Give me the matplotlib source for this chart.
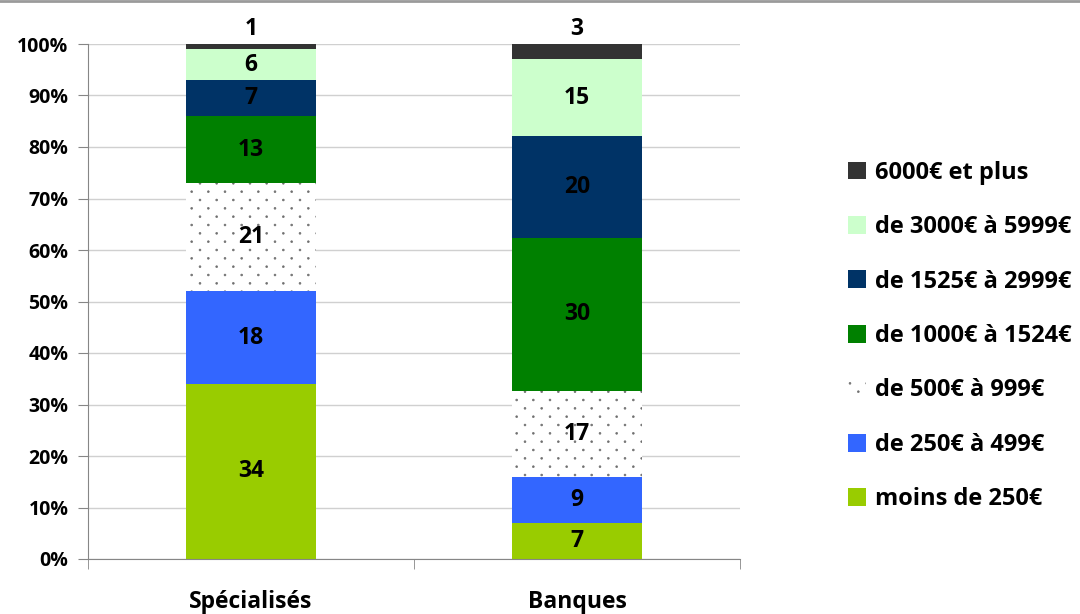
import matplotlib
matplotlib.use("Agg")
import matplotlib.pyplot as plt
import matplotlib.hatch as mhatch
from matplotlib.path import Path
from matplotlib.patches import Patch
from matplotlib.lines import Line2D
import numpy as np

plt.rcParams['font.family'] = ['Open Sans', 'DejaVu Sans']
plt.rcParams['hatch.linewidth'] = 0.5


class ExcelDots(mhatch.Shapes):
    """Sparse staggered dot pattern (Excel 'dotted' fill)."""
    filled = True

    def __init__(self, hatch, density):
        n = hatch.count('.')
        circ = Path.unit_circle()
        self.shape_vertices = circ.vertices
        self.shape_codes = circ.codes
        self.pts = []
        if n:
            rows, cols = 12, 6
            for r in range(rows + 1):
                y = r / rows
                if r % 2 == 0:
                    xs = np.linspace(0, 1, cols + 1)
                else:
                    xs = (np.arange(cols) + 0.5) / cols
                for xx in xs:
                    self.pts.append((xx, y))
        self.num_shapes = len(self.pts)
        self.num_vertices = self.num_shapes * len(self.shape_vertices)

    def set_vertices_and_codes(self, vertices, codes):
        nv = len(self.shape_vertices)
        r = 0.009
        for k, (px, py) in enumerate(self.pts):
            vertices[k * nv:(k + 1) * nv] = self.shape_vertices * r + (px, py)
            codes[k * nv:(k + 1) * nv] = self.shape_codes


mhatch._hatch_types = [ExcelDots if t is mhatch.SmallFilledCircles else t
                       for t in mhatch._hatch_types]

categories = ["Spécialisés", "Banques"]
series_names = ["moins de 250€", "de 250€ à 499€", "de 500€ à 999€",
                "de 1000€ à 1524€", "de 1525€ à 2999€", "de 3000€ à 5999€",
                "6000€ et plus"]
specialises = [34, 18, 21, 13, 7, 6, 1]
banques = [7, 9, 17, 30, 20, 15, 3]
colors = ["#99CC00", "#3366FF", "white", "#008000", "#003366", "#CCFFCC", "#333333"]
hatches = [None, None, ".", None, None, None, None]
yticklabels = ["0%", "10%", "20%", "30%", "40%", "50%", "60%", "70%", "80%", "90%", "100%"]

fig = plt.figure(figsize=(10.8, 6.14), dpi=100)
ax = fig.add_axes([88/1080, 1-559/614, (740-88)/1080, (559-44)/614])

data = np.array([specialises, banques], dtype=float)
pct = data / data.sum(axis=1, keepdims=True) * 100
x = np.arange(len(categories))
bottom = np.zeros(len(categories))
width = 0.4
for i, name in enumerate(series_names):
    vals = pct[:, i]
    ec = '#6f6f6f' if hatches[i] else colors[i]
    ax.bar(x, vals, width, bottom=bottom, color=colors[i], hatch=hatches[i],
           edgecolor=ec, linewidth=0, zorder=2)
    for j in range(len(categories)):
        raw = int(data[j, i])
        if i == len(series_names) - 1:
            ypos = 100 + 2.9
        else:
            ypos = bottom[j] + vals[j] / 2
        ax.text(x[j], ypos, str(raw), ha='center', va='center',
                fontsize=16.5, fontweight='bold', color='black', zorder=3)
    bottom += vals

ax.set_xlim(-0.5, 1.5)
ax.set_ylim(0, 100)
ax.set_yticks(np.arange(0, 101, 10))
ax.set_yticklabels(yticklabels, fontsize=14, fontweight='bold')
ax.set_xticks(x)
ax.set_xticklabels(categories, fontsize=16.5, fontweight='bold')
ax.tick_params(axis='x', length=0, pad=22)
ax.set_xticks([-0.5, 0.5, 1.5], minor=True)
ax.tick_params(axis='x', which='minor', length=7, color='#868686', direction='out')
ax.tick_params(axis='y', length=7, color='#868686', direction='out', pad=7)
ax.yaxis.grid(True, color='#d0d0d0', linewidth=1, zorder=0)
ax.set_axisbelow(True)
for s in ['top', 'right']:
    ax.spines[s].set_visible(False)
ax.spines['left'].set_color('#868686')
ax.spines['bottom'].set_color('#868686')

handles = []
for i in reversed(range(len(series_names))):
    handles.append(Patch(facecolor=colors[i], hatch=hatches[i],
                         edgecolor='#6f6f6f' if hatches[i] else colors[i],
                         linewidth=0, label=series_names[i]))
leg = fig.legend(handles=handles, loc='center left', bbox_to_anchor=(0.785, 1-336/614),
                 frameon=False, handlelength=0.78, handleheight=0.78,
                 handletextpad=0.38, labelspacing=1.29, borderpad=0, borderaxespad=0,
                 prop={'weight': 'bold', 'size': 17})

fig.add_artist(Line2D([0, 1], [0.999, 0.999], transform=fig.transFigure,
                      color='#9a9a9a', linewidth=2))

fig.savefig("out.png", dpi=100)
